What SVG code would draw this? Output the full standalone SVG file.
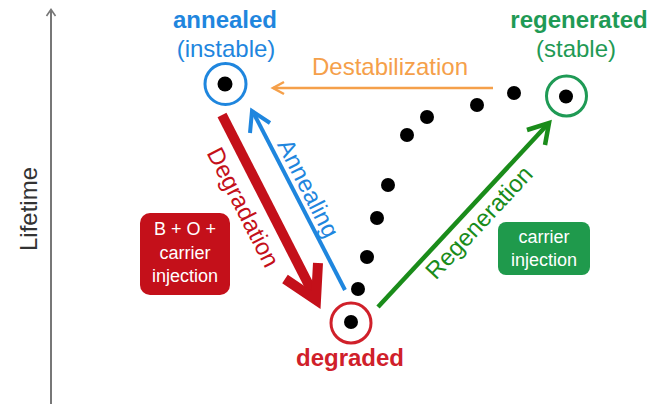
<svg xmlns="http://www.w3.org/2000/svg" width="656" height="404" viewBox="0 0 656 404">
<style>
text{font-family:"Liberation Sans",Arial,sans-serif;font-size:24px;text-anchor:middle}
.b{font-weight:bold}
.box{font-size:18px;fill:#fff}
.dot{fill:#000}
.ring{fill:none;stroke-width:3}
</style>
<rect width="656" height="404" fill="#fff"/>
<g id="axis">
<line x1="51" y1="10" x2="51" y2="404" stroke="#777" stroke-width="2"/>
<polyline points="46.5,16 51,9.5 55.5,16" fill="none" stroke="#777" stroke-width="1.6"/>
<text transform="translate(37,209) rotate(-90)" fill="#333">Lifetime</text>
</g>
<g id="connectors" fill="none" stroke-linecap="butt" stroke-linejoin="miter">
<g id="destabilization" stroke="#f5a04a" stroke-width="2.5">
<line x1="493" y1="88" x2="273" y2="88"/>
<polyline points="284,82 273,88 284,94"/>
</g>
<g id="degradation" stroke="#c4101a" stroke-width="10">
<line x1="222" y1="115" x2="314" y2="295"/>
<polyline points="285,279 316,300 318,263"/>
</g>
<g id="annealing" stroke="#1f86de" stroke-width="4">
<line x1="345" y1="290" x2="254" y2="114"/>
<polyline points="250,133 252,111 270,123"/>
</g>
<g id="regeneration" stroke="#1a8c1a" stroke-width="4.5">
<line x1="378" y1="307" x2="547" y2="125"/>
<polyline points="527,130 549,123 545,145"/>
</g>
<text fill="#f5a04a" x="390" y="75">Destabilization</text>
<text fill="#c4101a" transform="translate(236,211) rotate(63)">Degradation</text>
<text fill="#1f86de" transform="translate(301,192) rotate(63)">Annealing</text>
<text fill="#1a8c1a" transform="translate(485,228) rotate(-47)">Regeneration</text>
</g>
<g id="path-dots" class="dot">
<circle cx="514" cy="93" r="7"/>
<circle cx="477" cy="105" r="7"/>
<circle cx="427" cy="117" r="7"/>
<circle cx="407" cy="135" r="7"/>
<circle cx="388" cy="185" r="7"/>
<circle cx="377" cy="218" r="7"/>
<circle cx="367" cy="257" r="7"/>
<circle cx="358" cy="289" r="7"/>
</g>
<g id="annealed">
<circle class="ring" cx="225.5" cy="84" r="20.5" stroke="#1f86de"/>
<circle class="dot" cx="225" cy="84" r="7.5"/>
<text class="b" x="225" y="28" fill="#1f86de">annealed</text>
<text x="226" y="57" fill="#1f86de">(instable)</text>
</g>
<g id="regenerated">
<circle class="ring" cx="566.5" cy="96" r="20" stroke="#1f9a55"/>
<circle class="dot" cx="566" cy="96.5" r="7"/>
<text class="b" x="579" y="28" fill="#1f9a55">regenerated</text>
<text x="576" y="57" fill="#1f9a55">(stable)</text>
</g>
<g id="degraded">
<circle class="ring" cx="351" cy="323" r="20" stroke="#d0202a"/>
<circle class="dot" cx="351" cy="322" r="7"/>
<text class="b" x="350" y="366" fill="#d0202a">degraded</text>
</g>
<g id="red-box">
<rect x="140" y="213" width="90" height="82" rx="10" fill="#c4101a"/>
<text class="box" x="185" y="235">B + O +</text>
<text class="box" x="185" y="259">carrier</text>
<text class="box" x="185" y="282">injection</text>
</g>
<g id="green-box">
<rect x="498" y="222" width="92" height="53" rx="8" fill="#1f9a4c"/>
<text class="box" x="544" y="243">carrier</text>
<text class="box" x="544" y="266">injection</text>
</g>
</svg>
